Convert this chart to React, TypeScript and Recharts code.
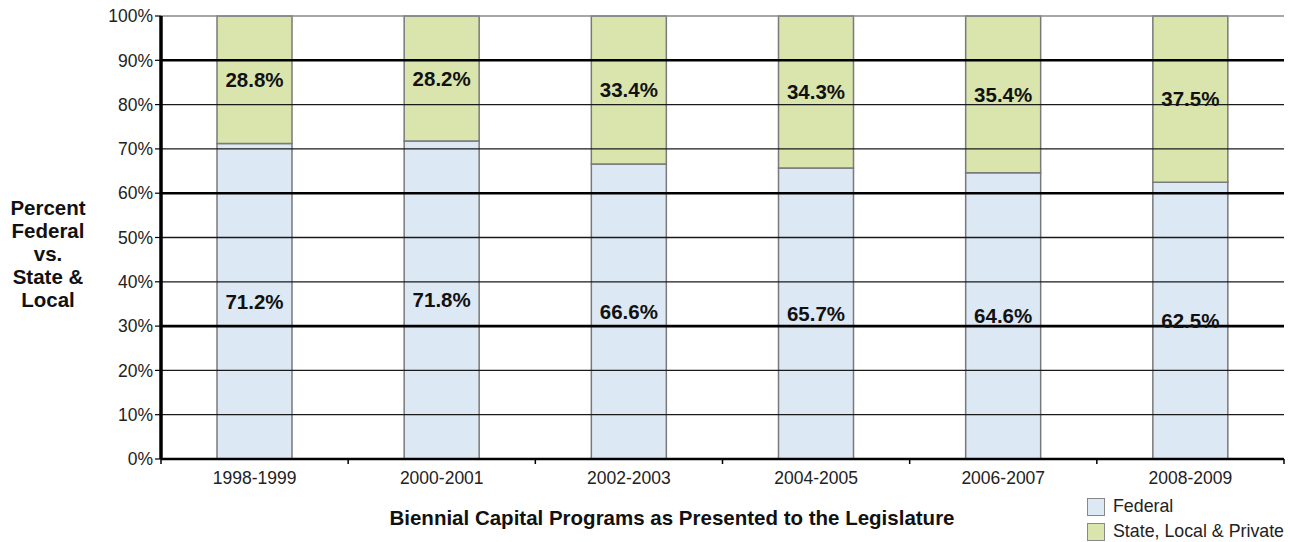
import React from 'react';
import { BarChart, Bar, XAxis, YAxis, ReferenceLine, LabelList, Legend, Label } from 'recharts';

const categories = ['1998-1999', '2000-2001', '2002-2003', '2004-2005', '2006-2007', '2008-2009'];
const federal = [71.2, 71.8, 66.6, 65.7, 64.6, 62.5];
const stateLocal = [28.8, 28.2, 33.4, 34.3, 35.4, 37.5];
const yTicks = [0, 10, 20, 30, 40, 50, 60, 70, 80, 90, 100];
const thinGrid = [10, 20, 40, 50, 70, 80];
const thickGrid = [30, 60, 90];
const seriesNames = ['Federal', 'State, Local & Private'];
const yLabelLines = ['Percent', 'Federal', 'vs.', 'State &', 'Local'];
const xTitle = 'Biennial Capital Programs as Presented to the Legislature';

const data = categories.map((c, i) => ({ name: c, federal: federal[i], stateLocal: stateLocal[i] }));

const FONT = '"Liberation Sans", Arial, sans-serif';
const W = 1290;
const H = 542;
const MARGIN = { top: 16, right: 6, bottom: 43, left: 91 };
const PLOT_LEFT = 161;
const PLOT_RIGHT = W - MARGIN.right;
const BAND = (PLOT_RIGHT - PLOT_LEFT) / categories.length;

const FED_FILL = '#dde8f5';
const STATE_FILL = '#d9e5ad';
const BAR_STROKE = '#7a7a7a';
const BOLD_SIZE = 20.5;
const REG_SIZE = 17.5;

const XTick = (props: any) => {
  const { x, y, payload, index } = props;
  const last = index === categories.length - 1;
  return (
    <g>
      <line x1={x - BAND / 2} x2={x - BAND / 2} y1={y} y2={y + 5} stroke="#000" strokeWidth={1.5} />
      {last && <line x1={x + BAND / 2} x2={x + BAND / 2} y1={y} y2={y + 5} stroke="#000" strokeWidth={1.5} />}
      <text x={x} y={y + 19} dy="0.35em" textAnchor="middle" fontSize={REG_SIZE} fill="#222" fontFamily={FONT}>
        {payload.value}
      </text>
    </g>
  );
};

const YLabel = () => (
  <text x={48} y={208} textAnchor="middle" fontSize={BOLD_SIZE} fontWeight="bold" fill="#111" fontFamily={FONT}>
    {yLabelLines.map((l, i) => (
      <tspan key={i} x={48} dy={i === 0 ? '0.35em' : 23}>
        {l}
      </tspan>
    ))}
  </text>
);

const XTitle = () => (
  <text x={672} y={518} dy="0.35em" textAnchor="middle" fontSize={BOLD_SIZE} fontWeight="bold" fill="#111" fontFamily={FONT}>
    {xTitle}
  </text>
);

const LegendContent = () => (
  <div style={{ fontFamily: FONT, fontSize: 17.8, color: '#222', lineHeight: '25px' }}>
    {seriesNames.map((n, i) => (
      <div key={n} style={{ display: 'flex', alignItems: 'center' }}>
        <span
          style={{
            display: 'inline-block',
            width: 18,
            height: 18,
            background: i === 0 ? FED_FILL : STATE_FILL,
            border: '1.5px solid #888',
            boxSizing: 'border-box',
            marginRight: 8,
          }}
        />
        <span>{n}</span>
      </div>
    ))}
  </div>
);

export default function App() {
  return (
    <div style={{ position: 'absolute', left: 0, top: 0, width: W, height: H, background: '#fff' }}>
      <BarChart width={W} height={H} data={data} margin={MARGIN}>
        <XAxis
          dataKey="name"
          height={40}
          axisLine={{ stroke: '#000', strokeWidth: 2.5 }}
          tickLine={false}
          tickSize={0}
          tickMargin={0}
          tick={<XTick />}
          interval={0}
        >
          <Label content={<XTitle />} />
        </XAxis>
        <YAxis
          yAxisId="left"
          width={70}
          domain={[0, 100]}
          ticks={yTicks}
          interval={0}
          tickFormatter={(v: number) => `${v}%`}
          axisLine={{ stroke: '#000', strokeWidth: 3.5 }}
          tickLine={{ stroke: '#000', strokeWidth: 1.2 }}
          tickSize={6}
          tickMargin={2}
          tick={{ fontSize: REG_SIZE, fill: '#222', fontFamily: FONT }}
        >
          <Label content={<YLabel />} />
        </YAxis>
        <YAxis
          yAxisId="right"
          orientation="right"
          width={0}
          domain={[0, 100]}
          tick={false}
          tickLine={false}
          axisLine={{ stroke: '#8a8a8a', strokeWidth: 1.5 }}
        />
        <Bar yAxisId="left" dataKey="federal" name={seriesNames[0]} stackId="a" barSize={75} fill={FED_FILL} stroke={BAR_STROKE} strokeWidth={1.5} isAnimationActive={false}>
          <LabelList
            dataKey="federal"
            position="center"
            formatter={(v: any) => `${Number(v).toFixed(1)}%`}
            style={{ fontSize: BOLD_SIZE, fontWeight: 'bold', fill: '#111', fontFamily: FONT }}
          />
        </Bar>
        <Bar yAxisId="left" dataKey="stateLocal" name={seriesNames[1]} stackId="a" barSize={75} fill={STATE_FILL} stroke={BAR_STROKE} strokeWidth={1.5} isAnimationActive={false}>
          <LabelList
            dataKey="stateLocal"
            position="center"
            formatter={(v: any) => `${Number(v).toFixed(1)}%`}
            style={{ fontSize: BOLD_SIZE, fontWeight: 'bold', fill: '#111', fontFamily: FONT }}
          />
        </Bar>
        {thinGrid.map((v) => (
          <ReferenceLine key={`t${v}`} yAxisId="left" y={v} stroke="#1a1a1a" strokeWidth={1.3} />
        ))}
        {thickGrid.map((v) => (
          <ReferenceLine key={`k${v}`} yAxisId="left" y={v} stroke="#000" strokeWidth={2.6} />
        ))}
        <ReferenceLine yAxisId="left" y={100} stroke="#8a8a8a" strokeWidth={1.5} />
        <Legend
          layout="vertical"
          align="center"
          verticalAlign="middle"
          wrapperStyle={{ left: 1087, top: 494, width: 'auto' }}
          content={<LegendContent />}
        />
      </BarChart>
    </div>
  );
}
